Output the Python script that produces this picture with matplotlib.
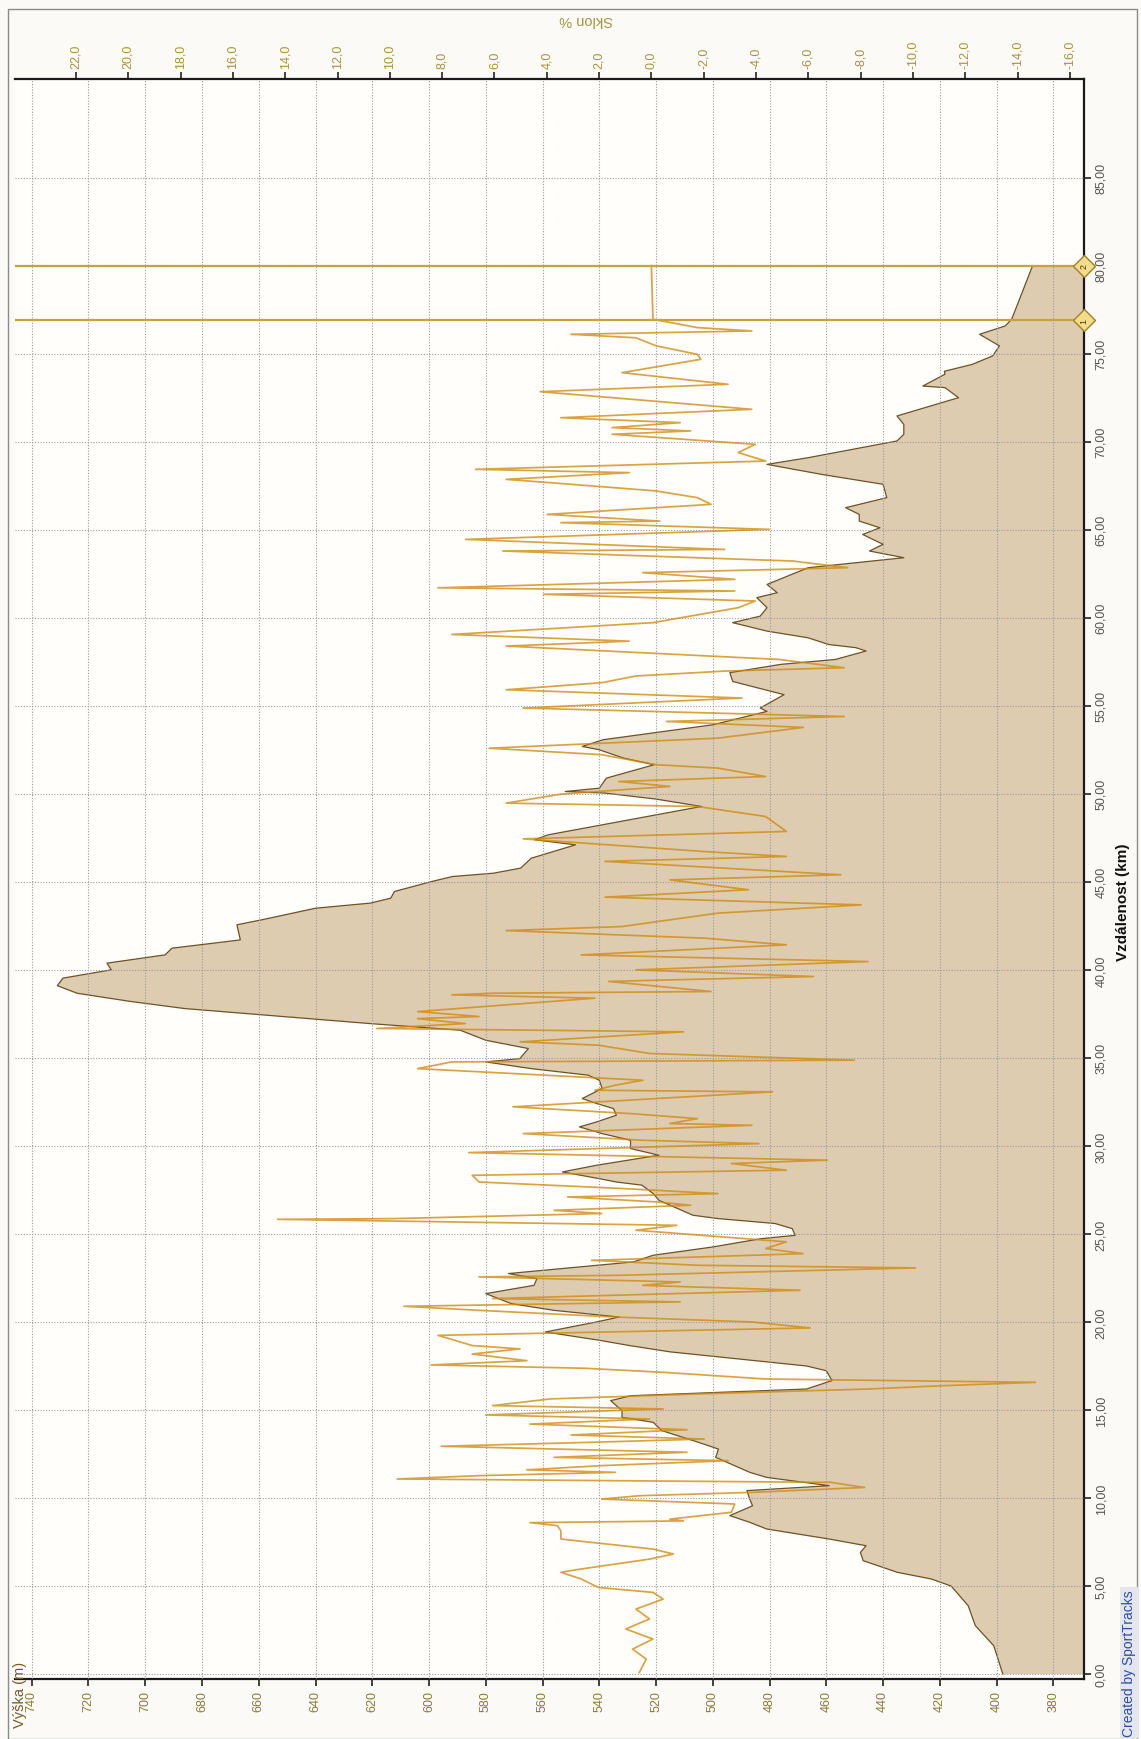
import matplotlib
matplotlib.use('Agg')
import matplotlib.pyplot as plt
from matplotlib.patches import Rectangle
from matplotlib.ticker import FuncFormatter

plt.rcParams['font.family'] = ['Liberation Sans', 'DejaVu Sans']

# elevation profile: distance (km) / altitude (m)
dist_km = [0.0, 1.61, 2.75, 3.88, 5.0, 5.4, 5.78, 6.44, 6.91, 7.29, 7.67, 8.24, 8.62, 9.0,
           9.56, 9.94, 10.42, 10.7, 11.17, 11.46, 12.03, 12.31, 12.78, 13.16, 13.83, 14.3,
           14.58, 14.96, 15.53, 15.81, 16.19, 16.67, 17.23, 17.5, 18.3, 18.65, 18.96, 19.43,
           20.0, 20.28, 20.66, 21.04, 21.61, 22.08, 22.46, 22.75, 23.41, 23.79, 24.26, 24.73,
           24.92, 25.3, 25.59, 25.87, 26.06, 26.91, 27.29, 27.77, 27.95, 28.14, 28.52, 28.9,
           29.47, 29.85, 30.32, 30.7, 31.08, 31.36, 31.74, 32.12, 32.41, 32.69, 33.26, 33.73,
           34.02, 34.39, 34.77, 34.96, 35.53, 36.0, 36.57, 36.95, 37.33, 37.8, 38.2, 38.67,
           39.1, 39.53, 40.0, 40.38, 40.85, 41.23, 41.7, 42.56, 42.84, 43.5, 43.79, 44.07,
           44.45, 45.02, 45.3, 45.49, 45.78, 46.34, 46.63, 47.1, 47.39, 47.67, 49.28, 49.7,
           50.04, 50.13, 50.32, 50.89, 51.65, 52.03, 52.5, 52.69, 53.07, 53.92, 54.68, 54.87,
           55.63, 56.38, 56.88, 57.35, 57.63, 58.11, 58.3, 58.48, 58.86, 59.24, 59.72, 60.09,
           60.57, 61.14, 61.42, 61.89, 62.84, 63.41, 63.79, 64.17, 64.73, 65.11, 65.49, 65.87,
           66.25, 66.82, 67.58, 68.14, 68.71, 69.09, 70.04, 70.42, 70.98, 71.46, 72.5, 73.07,
           73.16, 73.83, 74.0, 74.39, 74.87, 75.44, 76.1, 76.57, 76.95, 80.0]
elev_m = [397.8, 401, 407.5, 410, 416, 423, 435, 447, 448, 446, 459, 481, 487, 494,
          486, 487, 488, 459, 481, 487, 495, 499, 498, 505, 518, 521,
          532, 532, 536, 529, 467, 458, 460, 467, 515, 529, 540, 559,
          541, 533, 556, 571, 580, 563, 562, 572, 528, 521, 500, 483,
          471, 472, 478, 498, 507, 519, 521, 525, 534, 540, 553, 541,
          519, 529, 529, 539, 547, 541, 534, 535, 541, 546, 539, 540,
          544, 564, 580, 568, 565, 580, 589, 621, 650, 686, 705, 724,
          731, 729, 712, 713.5, 693, 690.6, 666.5, 667.7, 659, 640, 620.7, 613.5,
          612.2, 599, 591.8, 577.3, 567.7, 564, 558, 548.4, 562.8, 558, 504, 520,
          538, 552, 540, 537.5, 520.7, 531.5, 540, 546, 538.7, 500, 480.9, 483.3,
          474.9, 493, 494, 476.1, 456.8, 446, 449.6, 459.2, 466.4, 480.9, 493, 483.3,
          480.9, 484.5, 477.3, 480.9, 466.4, 432.7, 444.8, 440, 447.2, 441.1, 448.4, 448.4,
          453.2, 438.7, 440, 461.6, 480.9, 466.4, 435.1, 432.7, 432.7, 435.1, 413.4, 418.2,
          426, 418.2, 418.4, 408.6, 401.4, 399, 406, 397, 394.7, 387.3]

# gradient track: distance (km) / slope (%)
slope_km = [0.09, 0.85, 1.42, 1.99, 2.56, 3.13, 3.69, 4.26, 4.64, 4.92, 5.4, 5.78, 5.97,
            6.53, 6.82, 7.1, 7.67, 8.14, 8.43, 8.6, 8.7, 8.8, 9.19, 9.66, 9.94, 10.13,
            10.32, 10.6, 10.89, 11.08, 11.27, 11.46, 11.6, 11.84, 12.12, 12.31, 12.6, 12.94,
            13.16, 13.35, 13.58, 13.88, 14.2, 14.49, 14.72, 15.06, 15.25, 15.63, 15.91,
            16.19, 16.38, 16.57, 16.76, 17.14, 17.37, 17.56, 17.8, 18.18, 18.47, 18.66,
            19.24, 19.66, 20.0, 20.28, 20.66, 20.89, 21.14, 21.33, 21.8, 22.08, 22.27,
            22.56, 22.65, 23.07, 23.22, 23.5, 23.88, 24.17, 24.55, 25.21, 25.49, 25.83,
            25.87, 26.16, 26.34, 26.63, 26.82, 27.1, 27.29, 27.58, 27.95, 28.33, 28.62,
            29.0, 29.19, 29.62, 30.13, 30.32, 30.7, 31.17, 31.27, 31.55, 31.84, 32.22,
            33.07, 33.16, 33.45, 33.73, 34.39, 34.77, 34.87, 35.25, 35.72, 35.91, 36.48,
            36.67, 36.95, 37.23, 37.35, 37.63, 38.39, 38.58, 38.67, 38.77, 39.34, 39.43,
            39.62, 40.0, 40.47, 40.85, 41.42, 41.8, 42.23, 42.46, 43.22, 43.69, 44.13,
            44.55, 45.11, 45.4, 46.16, 46.44, 46.72, 47.44, 47.86, 48.71, 49.28, 49.47,
            49.98, 50.42, 50.7, 50.98, 51.46, 51.65, 52.22, 52.59, 53.16, 53.77, 54.11,
            54.39, 54.87, 55.44, 55.91, 56.31, 56.69, 56.97, 57.16, 57.63, 58.39, 58.67,
            59.05, 59.72, 60.57, 60.95, 61.33, 61.52, 61.7, 62.18, 62.56, 62.84, 63.22,
            63.79, 63.88, 64.45, 65.02, 65.4, 65.49, 65.87, 66.44, 66.82, 67.2, 67.58,
            67.86, 68.24, 68.43, 68.9, 69.38, 69.85, 70.42, 70.61, 70.8, 71.08, 71.36,
            71.84, 72.84, 73.26, 73.92, 74.68, 74.96, 75.44, 75.9, 76.1, 76.29, 76.48,
            76.95, 80.0]
slope_pct = [0.46, 0.2, 0.72, -0.06, 0.98, 0.07, 0.59, -0.45, -0.06, 2.03, 2.68, 3.46, 2.68,
             0.07, -0.84, -0.06, 3.46, 3.46, 3.59, 4.64, -1.23, -0.71, -3.06, -3.19, 1.9, 0.46,
             -3.85, -8.15, -6.85, 9.72, 6.59, 1.38, 4.76, 1.9, -2.93, 3.72, -1.36, 8.03,
             2.42, -2.02, 3.07, -1.36, 4.64, 0.07, 6.33, -0.45, 6.07, 3.85, -1.76,
             -8.28, -11.15, -14.68, -4.37, -0.45, 2.55, 8.42, 4.76, 6.85, 5.02, 6.85,
             8.16, -6.07, -3.84, 1.38, 6.59, 9.46, -1.1, 6.07, -5.68, 0.33, -1.1,
             6.59, 1.25, -10.1, -1.76, 2.29, -5.8, -4.37, -5.16, 0.59, -0.97, 14.29,
             9.85, 1.9, 3.72, -1.5, -0.19, 3.2, -2.54, 1.12, 6.59, 6.85, -5.16,
             -3.06, -6.72, 6.98, -4.11, 0.33, 4.9, -3.84, -0.71, -1.76, 0.85, 5.29,
             -4.63, 2.16, 1.38, 0.33, 8.94, 7.63, -7.76, 0.07, 2.03, 5.02, -1.23,
             10.5, 7.11, 8.94, 6.59, 8.94, 2.16, 7.63, 6.06, -2.28, 1.64, -0.71,
             -6.2, 0.59, -8.28, 2.68, -5.16, -2.02, 5.55, 1.12, -2.54, -8.02, 1.77,
             -3.71, -0.71, -7.24, 1.77, -5.16, -2.02, 4.9, -5.16, -4.37, -1.76, 5.55,
             3.46, -0.71, 1.25, -4.37, -2.54, -0.19, 1.9, 6.2, -2.54, -5.81, -0.58,
             -7.37, 4.9, -3.46, 5.55, 1.9, 0.59, -2.8, -7.37, -4.89, 5.55, 0.85,
             7.63, -0.06, -3.32, -3.97, 4.11, -3.19, 8.16, -3.19, 0.33, -7.5, -5.41,
             5.68, -2.8, 7.1, -4.5, 3.46, -0.32, 3.98, -2.28, -1.76, -0.19, 3.07,
             5.55, 0.85, 6.72, -4.37, -3.32, -3.97, 1.5, -1.5, 1.5, -1.1, 3.46,
             -3.84, 4.25, -2.93, 1.12, -1.89, -1.76, -0.19, 0.59, 3.07, -3.84, -1.76,
             -0.06, 0.0]

# range markers along the track
marker_km = [76.9, 80.0]
marker_txt = ['1', '2']

elev_ticks = list(range(380, 741, 20))
slope_ticks = list(range(-16, 23, 2))
dist_ticks = [5 * i for i in range(18)]

W, H = 1141, 1740
fig = plt.figure(figsize=(W / 100, H / 100), dpi=100, facecolor='#FBFAF6')

# outer frame
fig.patches.append(Rectangle((8 / W, 0), 1129 / W, 1 - 10 / H, transform=fig.transFigure,
                             fill=False, edgecolor='#8A8A8A', lw=1.0))

# plot drawn sideways: altitude runs right-to-left, distance bottom-to-top
ax = fig.add_axes([15 / W, 1 - 1680 / H, 1069 / W, 1600 / H])
ax.set_facecolor('#FFFEFB')
ax.set_xlim(745.9, 369.2)
ax.set_ylim(-0.28, 90.6)

ax.fill_betweenx(dist_km, elev_m, 300, color='#DECCB0', lw=0, zorder=1)
ax.plot(elev_m, dist_km, color='#6E5224', lw=0.9, zorder=2)

ax.set_xticks(elev_ticks)
ax.set_yticks(dist_ticks)
ax.grid(True, color='#9A9A9A', lw=0.8, ls=(0, (1, 1.5)), zorder=1.5)
ax.set_axisbelow(False)

ax.yaxis.tick_right()
ax.yaxis.set_major_formatter(FuncFormatter(lambda v, p: f'{v:.2f}'.replace('.', ',')))
ax.tick_params(axis='x', which='both', direction='out', length=5, width=1.2, color='#222222',
               labelsize=9, labelcolor='#8A7A3A', labelrotation=90, pad=3)
ax.tick_params(axis='y', which='both', direction='out', length=5, width=1.2, color='#222222',
               labelsize=9, labelcolor='#555555', labelrotation=90, pad=3)
for lab in ax.get_yticklabels():
    lab.set_va('center')

for side in ['left', 'top']:
    ax.spines[side].set_visible(False)
for side in ['bottom', 'right']:
    ax.spines[side].set_linewidth(1.6)
    ax.spines[side].set_color('#1A1A1A')

# gradient on its own axis along the top, semi-transparent over the profile
ax2 = ax.twiny()
ax2.set_xlim(24.33, -16.54)
ax2.plot(slope_pct, slope_km, color='#CF8A0E', alpha=0.78, lw=1.25, zorder=3)
ax2.set_xticks(slope_ticks)
ax2.xaxis.set_major_formatter(FuncFormatter(lambda v, p: f'{v:.1f}'.replace('.', ',')))
ax2.tick_params(axis='x', direction='out', length=5, width=1.2, color='#222222',
                labelsize=9, labelcolor='#A8923E', labelrotation=90, pad=3)
for side in ['left', 'right', 'bottom']:
    ax2.spines[side].set_visible(False)
ax2.spines['top'].set_linewidth(1.6)
ax2.spines['top'].set_color('#1A1A1A')

# range marker lines with numbered diamonds on the distance axis
trans = ax.get_yaxis_transform()
for km, txt in zip(marker_km, marker_txt):
    ax2.axhline(km, color='#C8A23C', lw=1.6, zorder=4)
    ax2.plot([1.0], [km], marker='D', ms=11, mfc='#F3DD8A', mec='#A0802A', mew=1.0,
             transform=trans, clip_on=False, zorder=6)
    ax2.text(1.0, km, txt, transform=trans, rotation=90, ha='center', va='center',
             fontsize=6.5, color='#4A3A10', zorder=7, clip_on=False)

fig.text(1123 / W, 1 - 902 / H, 'Vzdálenost (km)', rotation=90, ha='center', va='center',
         fontsize=11, fontweight='bold', color='#111111')
fig.text(586 / W, 1 - 20 / H, 'Sklon %', rotation=180, ha='center', va='center',
         fontsize=10.5, color='#A8923E')
fig.text(20 / W, 1 - 1695 / H, 'Výška (m)', rotation=90, ha='center', va='center',
         fontsize=10.5, color='#7A5A2A')
fig.text(1129 / W, 0.002, 'Created by SportTracks', rotation=90, ha='center', va='bottom',
         fontsize=10, color='#2B4FA8',
         bbox=dict(boxstyle='square,pad=0.15', fc='#E3E5EF', ec='none'))

fig.savefig('out.png', dpi=100, facecolor=fig.get_facecolor())
